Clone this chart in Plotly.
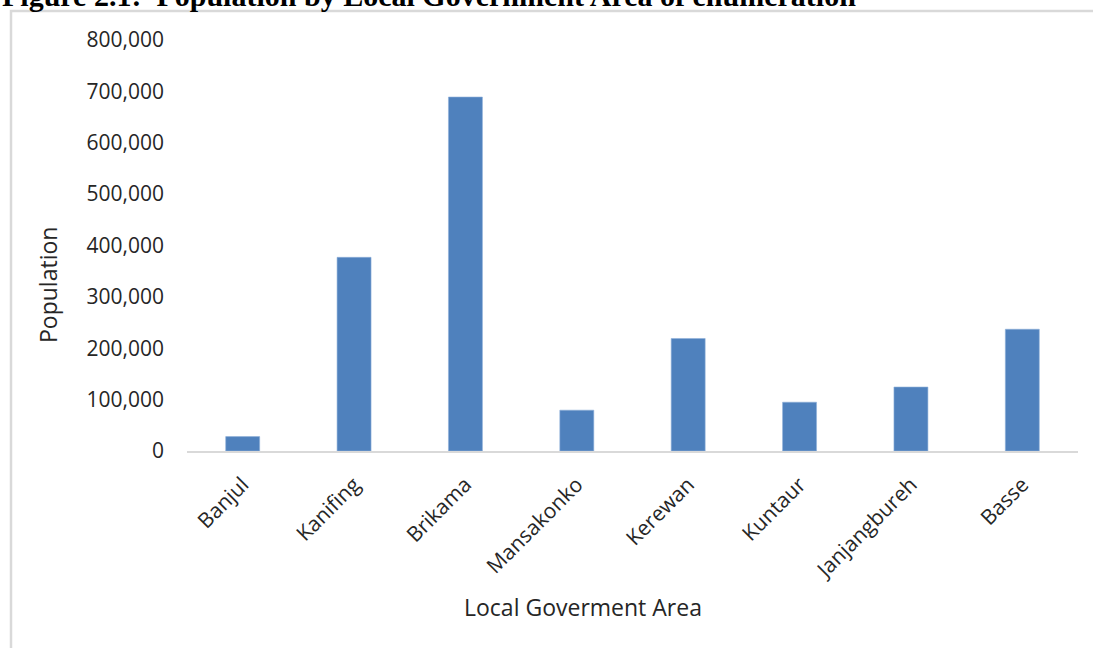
import plotly.graph_objects as go

# Population by Local Government Area (enumeration)
areas = ["Banjul", "Kanifing", "Brikama", "Mansakonko", "Kerewan",
         "Kuntaur", "Janjangbureh", "Basse"]
population = [28000, 377000, 689000, 79500, 219000, 95000, 124500, 237000]

y_ticks = [0, 100000, 200000, 300000, 400000, 500000, 600000, 700000, 800000]
y_tick_labels = ["0", "100,000", "200,000", "300,000", "400,000",
                 "500,000", "600,000", "700,000", "800,000"]

W, H = 1093, 648
L, R, T, B = 187, 15, 40, 197
pw, ph = W - L - R, H - T - B


def px_x(x):
    return (x - L) / pw


def px_y(y):
    return (H - B - y) / ph


text_col = "#262626"
font_fam = "Open Sans, Noto Sans, sans-serif"

fig = go.Figure(
    go.Bar(
        x=areas,
        y=population,
        marker=dict(color="#4F81BD", line=dict(color="#8FB0DA", width=0.6)),
        hoverinfo="x+y",
    )
)

fig.update_layout(
    width=W,
    height=H,
    margin=dict(l=L, r=R, t=T, b=B, autoexpand=False),
    paper_bgcolor="white",
    plot_bgcolor="white",
    bargap=0.695,
    showlegend=False,
    font=dict(family=font_fam, size=21, color=text_col),
    xaxis=dict(
        showline=True,
        linecolor="#d9d9d9",
        linewidth=2,
        showgrid=False,
        ticks="",
        tickangle=-45,
        ticklabelstandoff=11,
        tickfont=dict(family=font_fam, size=21, color=text_col),
        fixedrange=True,
    ),
    yaxis=dict(
        range=[0, 800000],
        tickvals=y_ticks,
        ticktext=y_tick_labels,
        showgrid=False,
        showline=False,
        zeroline=False,
        ticks="",
        ticklabelstandoff=22,
        tickfont=dict(family=font_fam, size=21, color=text_col),
        fixedrange=True,
    ),
    shapes=[
        # outer chart frame (left and top edges visible)
        dict(type="rect", xref="paper", yref="paper",
             x0=px_x(11), x1=px_x(1200), y0=px_y(800), y1=px_y(11),
             line=dict(color="#d9d9d9", width=2.5), layer="below"),
    ],
    annotations=[
        dict(text="<b>Figure 2.1:  Population by Local Government Area of enumeration</b>",
             xref="paper", yref="paper", x=px_x(0), y=px_y(14),
             xanchor="left", yanchor="bottom", showarrow=False,
             font=dict(family="Liberation Serif, Times New Roman, serif", size=30, color="black")),
        dict(text="Population", xref="paper", yref="paper",
             x=px_x(48), y=px_y(285), textangle=-90,
             xanchor="center", yanchor="middle", showarrow=False,
             font=dict(family=font_fam, size=23, color=text_col)),
        dict(text="Local Goverment Area", xref="paper", yref="paper",
             x=px_x(583), y=px_y(607),
             xanchor="center", yanchor="middle", showarrow=False,
             font=dict(family=font_fam, size=23, color=text_col)),
    ],
)

fig.write_html("out.html")
